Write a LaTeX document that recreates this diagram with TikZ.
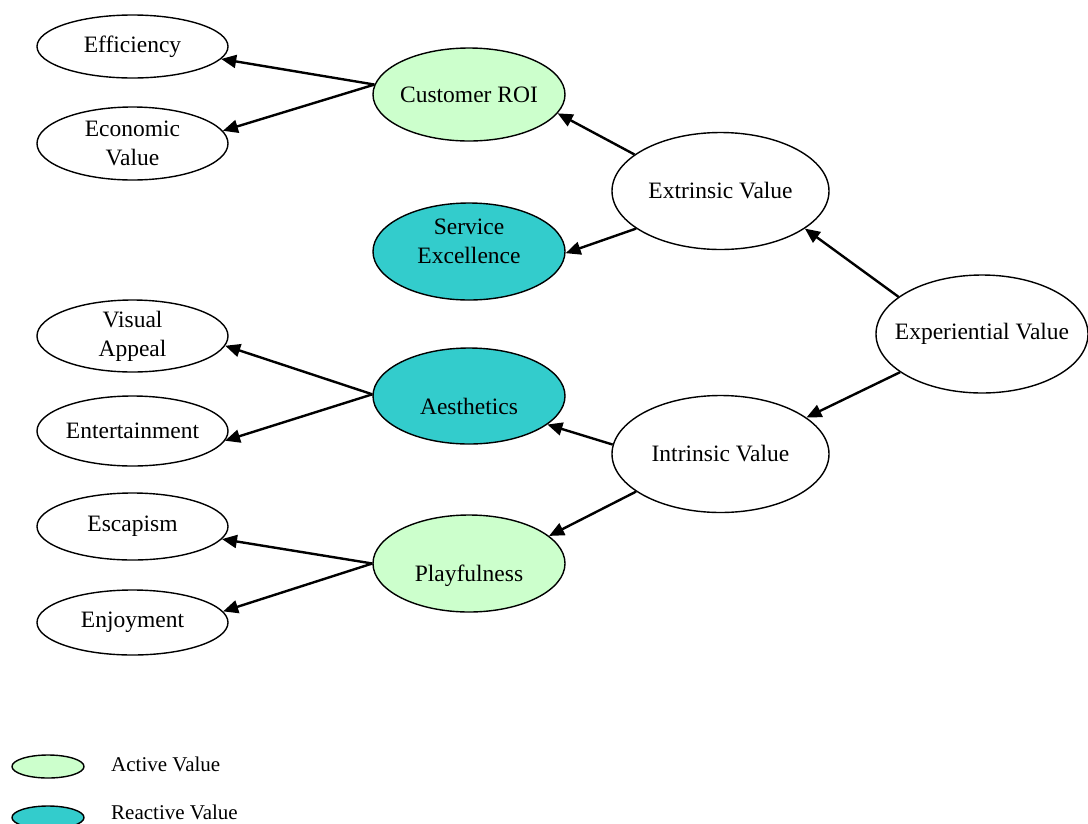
\documentclass[tikz,border=0pt]{standalone}
\usepackage{fontspec}
\setmainfont{Liberation Serif}
\usetikzlibrary{shapes.geometric,arrows.meta}
\definecolor{activegreen}{HTML}{CCFFCC}
\definecolor{reactiveteal}{HTML}{33CCCC}
\tikzset{
  val/.style={ellipse, draw=black, line width=1.4pt, inner sep=0pt, fill=white},
  sz/.style 2 args={minimum width=#1, minimum height=#2},
  txt/.style={font=\fontsize{23.5}{29}\selectfont, align=center, text=black},
  active/.style={fill=activegreen},
  reactive/.style={fill=reactiveteal},
  link/.style={line width=2.4pt, -{Triangle[length=15pt,width=13pt]}},
  legtxt/.style={font=\fontsize{21}{25}\selectfont, anchor=base west, inner sep=0pt},
}
\begin{document}
\begin{tikzpicture}[x=1pt,y=1pt]
\useasboundingbox (0,0) rectangle (1088,-823);

% leaf values
\node[val, sz={191pt}{63pt}, label={[txt]center:Efficiency}] (eff) at (132.5,-46.5) {};
\node[val, sz={191pt}{73pt}, label={[txt]center:Economic\\Value}] (eco) at (132.5,-143.5) {};
\node[val, sz={191pt}{72pt}, label={[txt]center:Visual\\Appeal}] (vis) at (132.5,-336) {};
\node[val, sz={191pt}{70pt}, label={[txt]center:Entertainment}] (ent) at (132.5,-431) {};
\node[val, sz={191pt}{67pt}, label={[txt]center:Escapism}] (esc) at (132.5,-526.5) {};
\node[val, sz={191pt}{65pt}, label={[txt]center:Enjoyment}] (enj) at (132.5,-622.5) {};

% value types
\node[val, active, sz={192pt}{93pt}, label={[txt]center:Customer ROI}] (roi) at (469,-94.5) {};
\node[val, reactive, sz={192pt}{97pt}, label={[txt,yshift=10pt]center:Service\\Excellence}] (svc) at (469,-251.5) {};
\node[val, reactive, sz={192pt}{96pt}, label={[txt,yshift=-10pt]center:Aesthetics}] (aes) at (469,-396) {};
\node[val, active, sz={192pt}{97pt}, label={[txt,yshift=-12pt]center:Playfulness}] (ply) at (469,-563.5) {};

% value dimensions
\node[val, sz={217pt}{117pt}, label={[txt]center:Extrinsic Value}] (ext) at (720.5,-191) {};
\node[val, sz={217pt}{117pt}, label={[txt]center:Intrinsic Value}] (int) at (720.5,-454) {};
\node[val, sz={212pt}{118pt}, label={[txt]center:Experiential Value}] (exp) at (982,-334) {};

% connectors
\draw[link] (exp.156) -- (ext.336);
\draw[link] (exp.205) -- (int.23);
\draw[link] (ext.157) -- (roi.348);
\draw[link] (ext.204) -- (svc.359);
\draw[link] (int.175) -- (aes.340);
\draw[link] (int.204) -- (ply.19);
\draw[link] (roi.174) -- (eff.352);
\draw[link] (roi.174) -- (eco.8);
\draw[link] (aes.179) -- (vis.354);
\draw[link] (aes.179) -- (ent.354);
\draw[link] (ply.180) -- (esc.352);
\draw[link] (ply.180) -- (enj.7);

% legend
\node[val, active, sz={72pt}{23pt}] (legA) at (48,-766.5) {};
\node[legtxt] (legAt) at (111,-771.7) {Active Value};
\node[val, reactive, sz={72pt}{23pt}] (legR) at (48,-817.5) {};
\node[legtxt] (legRt) at (111,-819.7) {Reactive Value};
\end{tikzpicture}
\end{document}
